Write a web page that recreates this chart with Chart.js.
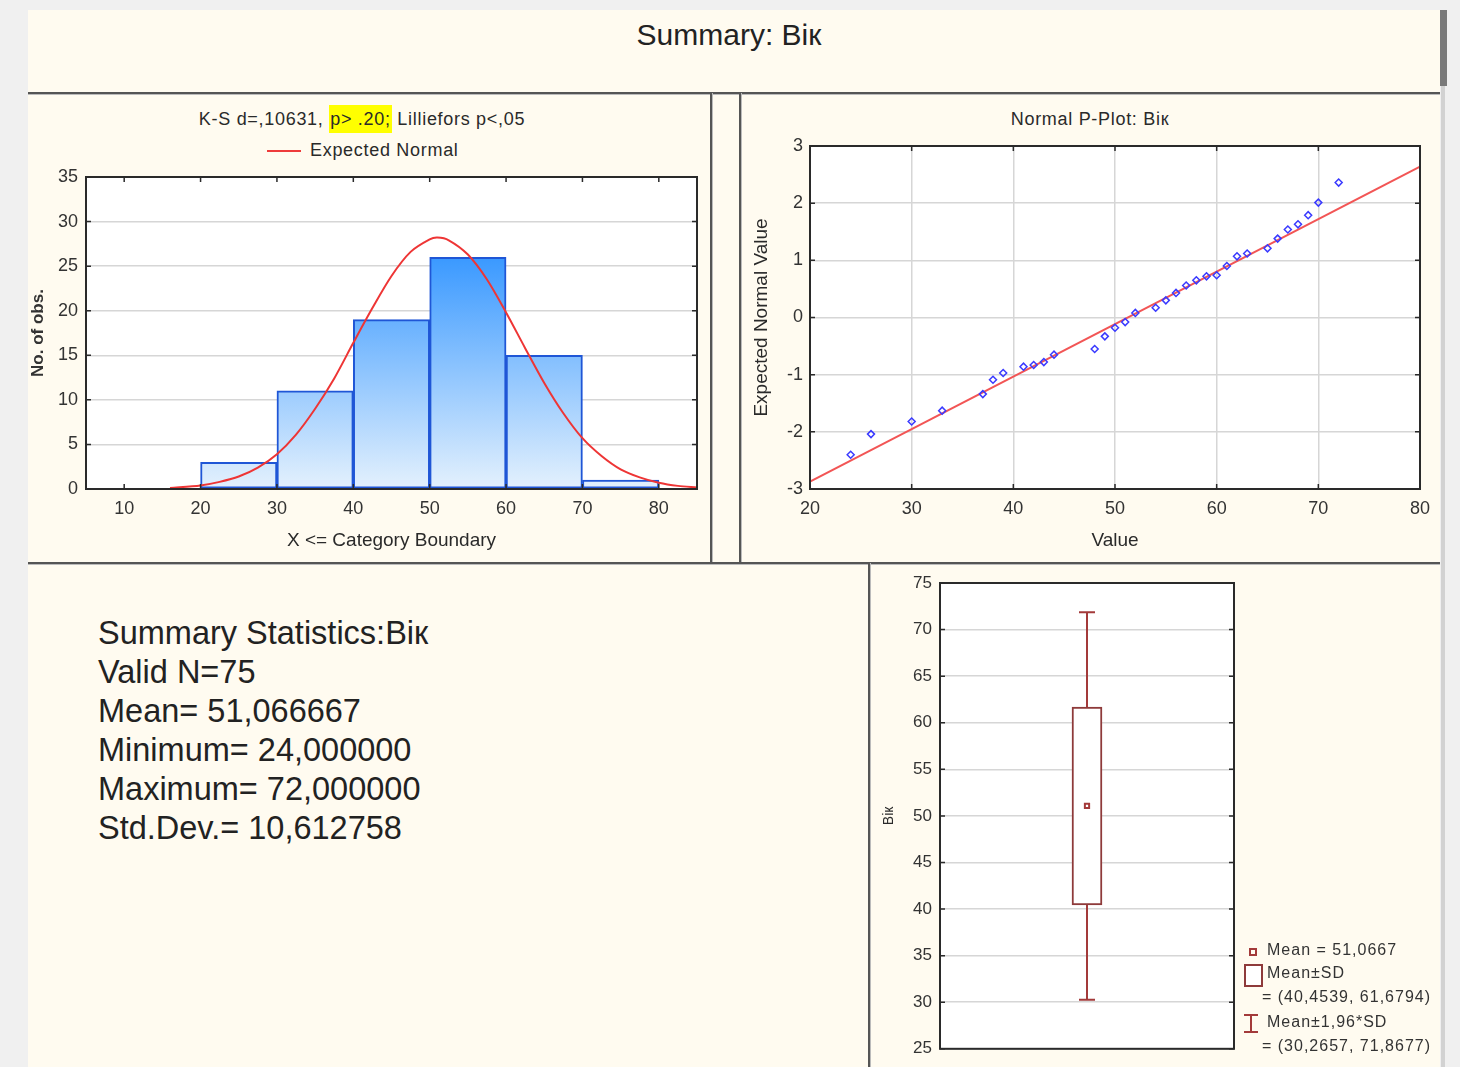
<!DOCTYPE html>
<html>
<head>
<meta charset="utf-8">
<title>Summary: Bік</title>
<script src="https://cdn.jsdelivr.net/npm/chart.js@4.4.1/dist/chart.umd.min.js"></script>
<style>
  body { margin: 0; width: 1460px; height: 1067px; background: #f0f0f0; overflow: hidden;
         font-family: "Liberation Sans", Arial, sans-serif; color: #222; position: relative; }
  .abs { position: absolute; }
  #sheet { left: 28px; top: 10px; width: 1412px; height: 1057px; background: #fffbf0; }
  .hline { height: 2px; background: #555; box-shadow: 0 1px 0 #bbb; }
  .vline { width: 2px; background: #555; box-shadow: 1px 0 0 #bbb; }
  .ptitle { font-size: 18px; line-height: 20px; letter-spacing: 0.7px; text-align: center; white-space: nowrap; color: #2a2a2a; }
  .hl { background: #ffff00; padding: 4px 1px; }
  #stats { left: 98px; top: 614px; font-size: 32.5px; line-height: 39px; color: #222; }
  .leg { font-size: 16px; line-height: 18px; letter-spacing: 1px; color: #333; white-space: nowrap; }
  canvas { position: absolute; }
</style>
</head>
<body>
<div id="sheet" class="abs"></div>
<div class="abs" style="left:1440px;top:10px;width:7px;height:76px;background:#7a7a7a"></div>
<div class="abs" style="left:1441px;top:86px;width:4px;height:981px;background:#d2d2d2"></div>

<div class="abs" style="left:429px;top:17px;width:600px;text-align:center;font-size:30px;line-height:36px;color:#222">Summary: Bік</div>

<div class="abs hline" style="left:28px;top:92px;width:1412px"></div>
<div class="abs vline" style="left:710px;top:93px;height:470px"></div>
<div class="abs vline" style="left:739px;top:93px;height:470px"></div>
<div class="abs hline" style="left:28px;top:562px;width:1412px"></div>
<div class="abs vline" style="left:868px;top:563px;height:504px"></div>

<div class="abs ptitle" style="left:162px;top:109px;width:400px">K-S d=,10631, <span class="hl">p&gt; .20;</span> Lilliefors p&lt;,05</div>
<div class="abs" style="left:267px;top:150px;width:34px;height:2px;background:#ee3b3b"></div>
<div class="abs ptitle" style="left:310px;top:140px">Expected Normal</div>

<div class="abs ptitle" style="left:940px;top:109px;width:300px">Normal P-Plot: Bік</div>

<div id="stats" class="abs">
  Summary Statistics:Bік<br>
  Valid N=75<br>
  Mean= 51,066667<br>
  Minimum= 24,000000<br>
  Maximum= 72,000000<br>
  Std.Dev.= 10,612758
</div>

<canvas id="hist" width="684" height="470" style="left:28px;top:93px"></canvas>
<canvas id="pplot" width="700" height="470" style="left:740px;top:93px"></canvas>
<canvas id="box" width="571" height="504" style="left:869px;top:563px"></canvas>

<!-- box plot legend -->
<div class="abs" style="left:1249px;top:948px;width:4px;height:4px;border:2px solid #a33a3a"></div>
<div class="abs leg" style="left:1267px;top:941px">Mean = 51,0667</div>
<div class="abs" style="left:1244px;top:964px;width:15px;height:19px;border:2px solid #8e3a3a;background:#fff"></div>
<div class="abs leg" style="left:1267px;top:964px">Mean±SD</div>
<div class="abs leg" style="left:1262px;top:988px">= (40,4539, 61,6794)</div>
<div class="abs" style="left:1244px;top:1014px;width:14px;height:2px;background:#a33a3a"></div>
<div class="abs" style="left:1250px;top:1014px;width:2px;height:19px;background:#a33a3a"></div>
<div class="abs" style="left:1244px;top:1031px;width:14px;height:2px;background:#a33a3a"></div>
<div class="abs leg" style="left:1267px;top:1013px">Mean±1,96*SD</div>
<div class="abs leg" style="left:1262px;top:1037px">= (30,2657, 71,8677)</div>

<script>
// histogram
const binStart = [20, 30, 40, 50, 60, 70];
const binWidth = 10;
const binCount = [3, 11, 19, 26, 15, 1];
const histTicks = [10, 20, 30, 40, 50, 60, 70, 80];
const normX = [16, 20, 22.5, 25, 27.5, 30, 32.5, 35, 37.5, 40, 42.5, 45, 47.5, 50, 51, 52.5, 55, 57.5, 60, 62.5, 65, 67.5, 70, 72.5, 75, 77.5, 80, 82.5, 85];
const normY = [0.1, 0.4, 0.8, 1.4, 2.4, 3.9, 6.1, 9.0, 12.4, 16.4, 20.3, 23.9, 26.6, 28.0, 28.2, 27.9, 26.3, 23.5, 19.8, 15.8, 11.9, 8.5, 5.7, 3.7, 2.2, 1.3, 0.7, 0.35, 0.17];

// normal probability plot
const ppValue = [24, 26, 30, 33, 37, 38, 39, 41, 42, 43, 44, 48, 49, 50, 51, 52, 54, 55, 56, 57, 58, 59, 60, 61, 62, 63, 65, 66, 67, 68, 69, 70, 72];
const ppExpected = [-2.40, -2.04, -1.82, -1.63, -1.34, -1.09, -0.97, -0.86, -0.83, -0.78, -0.65, -0.55, -0.33, -0.18, -0.08, 0.08, 0.17, 0.30, 0.43, 0.56, 0.65, 0.72, 0.74, 0.90, 1.07, 1.12, 1.21, 1.38, 1.54, 1.63, 1.79, 2.01, 2.36];
const ppLineX = [20, 80];
const ppLineY = [-2.87, 2.64];

// box plot
const boxMean = 51.0667;
const boxSD = [40.4539, 61.6794];
const boxCI = [30.2657, 71.8677];

const fontFamily = '"Liberation Sans", Arial, sans-serif';
const tickColor = '#333';
const gridColor = '#d6d6d6';

// white plot area, frame and inside tick marks like the original
const frame = {
  id: 'frame',
  beforeDraw(chart) {
    const a = chart.chartArea, c = chart.ctx;
    c.save();
    c.fillStyle = '#fff';
    c.fillRect(a.left, a.top, a.right - a.left, a.bottom - a.top);
    c.restore();
  },
  afterDraw(chart) {
    const a = chart.chartArea, c = chart.ctx;
    c.save();
    c.strokeStyle = '#2a2a2a';
    c.lineWidth = 2;
    c.strokeRect(a.left, a.top, a.right - a.left, a.bottom - a.top);
    c.lineWidth = 1.5;
    c.beginPath();
    const sx = chart.scales.x, sy = chart.scales.y;
    if (sx.options.display) {
      sx.ticks.forEach(t => {
        const p = sx.getPixelForValue(t.value);
        c.moveTo(p, a.top); c.lineTo(p, a.top + 5);
        c.moveTo(p, a.bottom); c.lineTo(p, a.bottom - 5);
      });
    }
    sy.ticks.forEach(t => {
      const p = sy.getPixelForValue(t.value);
      c.moveTo(a.left, p); c.lineTo(a.left + 5, p);
      c.moveTo(a.right, p); c.lineTo(a.right - 5, p);
    });
    c.stroke();
    c.restore();
  }
};

const tickFont = { family: fontFamily, size: 18 };
const titleFont = { family: fontFamily, size: 19 };

new Chart(document.getElementById('hist'), {
  type: 'bar',
  data: {
    datasets: [
      {
        type: 'line',
        label: 'Expected Normal',
        data: normX.map((x, i) => ({ x: x, y: normY[i] })),
        borderColor: '#ee3535',
        borderWidth: 2,
        pointRadius: 0,
        tension: 0.3,
        order: 0
      },
      {
        label: 'No. of obs.',
        data: binStart.map((s, i) => ({ x: s + binWidth / 2, y: binCount[i] })),
        backgroundColor(ctx) {
          const chart = ctx.chart;
          if (!chart.chartArea) return '#8cc4fb';
          const y = chart.scales.y;
          const g = chart.ctx.createLinearGradient(0, y.getPixelForValue(26), 0, y.getPixelForValue(0));
          g.addColorStop(0, '#3a99ff');
          g.addColorStop(1, '#e4f1fd');
          return g;
        },
        borderColor: '#1f56d6',
        borderWidth: 2,
        borderSkipped: false,
        barPercentage: 1,
        categoryPercentage: 1,
        order: 1
      }
    ]
  },
  options: {
    responsive: false,
    animation: false,
    devicePixelRatio: 1,
    layout: { padding: { top: 84, right: 15, left: 0, bottom: 0 } },
    plugins: { legend: { display: false }, tooltip: { enabled: false } },
    scales: {
      x: {
        type: 'linear', min: 5, max: 85, offset: false,
        afterBuildTicks: axis => { axis.ticks = histTicks.map(v => ({ value: v })); },
        afterFit: axis => { axis.height = 74; },
        grid: { display: false, drawTicks: false, offset: false },
        border: { display: false },
        ticks: { font: tickFont, color: tickColor, padding: 9, maxRotation: 0 },
        title: { display: true, text: 'X <= Category Boundary', font: titleFont, color: '#2a2a2a', padding: { bottom: 11 } }
      },
      y: {
        min: 0, max: 35,
        afterFit: axis => { axis.width = 58; },
        grid: { color: gridColor, lineWidth: 1.5, drawTicks: false },
        border: { display: false },
        ticks: { stepSize: 5, font: tickFont, color: tickColor, padding: 8 },
        title: { display: true, text: 'No. of obs.', font: { family: fontFamily, size: 17, weight: 'bold' }, color: '#333', padding: { top: 0 } }
      }
    }
  },
  plugins: [frame]
});

new Chart(document.getElementById('pplot'), {
  type: 'scatter',
  data: {
    datasets: [
      {
        label: 'Expected Normal Value',
        data: ppValue.map((v, i) => ({ x: v, y: ppExpected[i] })),
        pointStyle: 'rectRot',
        pointRadius: 3.5,
        backgroundColor: 'rgba(0,0,0,0)',
        borderColor: '#3a3aff',
        borderWidth: 1.5,
        order: 0
      },
      {
        type: 'line',
        label: 'fit',
        data: ppLineX.map((x, i) => ({ x: x, y: ppLineY[i] })),
        borderColor: '#f25555',
        borderWidth: 2,
        pointRadius: 0,
        order: 1
      }
    ]
  },
  options: {
    responsive: false,
    animation: false,
    devicePixelRatio: 1,
    layout: { padding: { top: 53, right: 20, left: 0, bottom: 0 } },
    plugins: { legend: { display: false }, tooltip: { enabled: false } },
    scales: {
      x: {
        type: 'linear', min: 20, max: 80,
        afterFit: axis => { axis.height = 74; },
        grid: { color: gridColor, lineWidth: 1.5, drawTicks: false },
        border: { display: false },
        ticks: { stepSize: 10, font: tickFont, color: tickColor, padding: 9, maxRotation: 0 },
        title: { display: true, text: 'Value', font: titleFont, color: '#2a2a2a', padding: { bottom: 11 } }
      },
      y: {
        min: -3, max: 3,
        afterFit: axis => { axis.width = 70; },
        grid: { color: gridColor, lineWidth: 1.5, drawTicks: false },
        border: { display: false },
        ticks: { stepSize: 1, font: tickFont, color: tickColor, padding: 7 },
        title: { display: true, text: 'Expected Normal Value', font: titleFont, color: '#2a2a2a', padding: { top: 10 } }
      }
    }
  },
  plugins: [frame]
});

const boxColor = '#a33a3a';
new Chart(document.getElementById('box'), {
  type: 'bar',
  data: {
    datasets: [
      {
        type: 'scatter',
        label: 'Mean',
        data: [{ x: 0, y: boxMean }],
        pointStyle: 'rect',
        pointRadius: 3,
        backgroundColor: '#fff',
        borderColor: boxColor,
        borderWidth: 2,
        order: 0
      },
      {
        label: 'Mean±SD',
        data: [{ x: 0, y: boxSD }],
        backgroundColor: '#fff',
        borderColor: '#8e3a3a',
        borderWidth: 2,
        borderSkipped: false,
        barThickness: 30,
        order: 1
      },
      {
        type: 'line',
        label: 'Mean±1,96*SD',
        data: boxCI.map(v => ({ x: 0, y: v })),
        borderColor: boxColor,
        borderWidth: 2,
        pointStyle: 'line',
        pointRadius: 8,
        pointBorderWidth: 2,
        pointBorderColor: boxColor,
        order: 2
      }
    ]
  },
  options: {
    responsive: false,
    animation: false,
    devicePixelRatio: 1,
    layout: { padding: { top: 20, right: 206, left: 0, bottom: 16 } },
    plugins: { legend: { display: false }, tooltip: { enabled: false } },
    scales: {
      x: { type: 'linear', min: -1, max: 1, offset: false, display: false },
      y: {
        min: 25, max: 75,
        afterFit: axis => { axis.width = 71; },
        grid: { color: gridColor, lineWidth: 1.5, drawTicks: false },
        border: { display: false },
        ticks: { stepSize: 5, font: { family: fontFamily, size: 17 }, color: tickColor, padding: 8 },
        title: { display: true, text: 'Bік', font: { family: fontFamily, size: 14 }, color: '#2a2a2a', padding: { top: 12 } }
      }
    }
  },
  plugins: [frame]
});
</script>
</body>
</html>
